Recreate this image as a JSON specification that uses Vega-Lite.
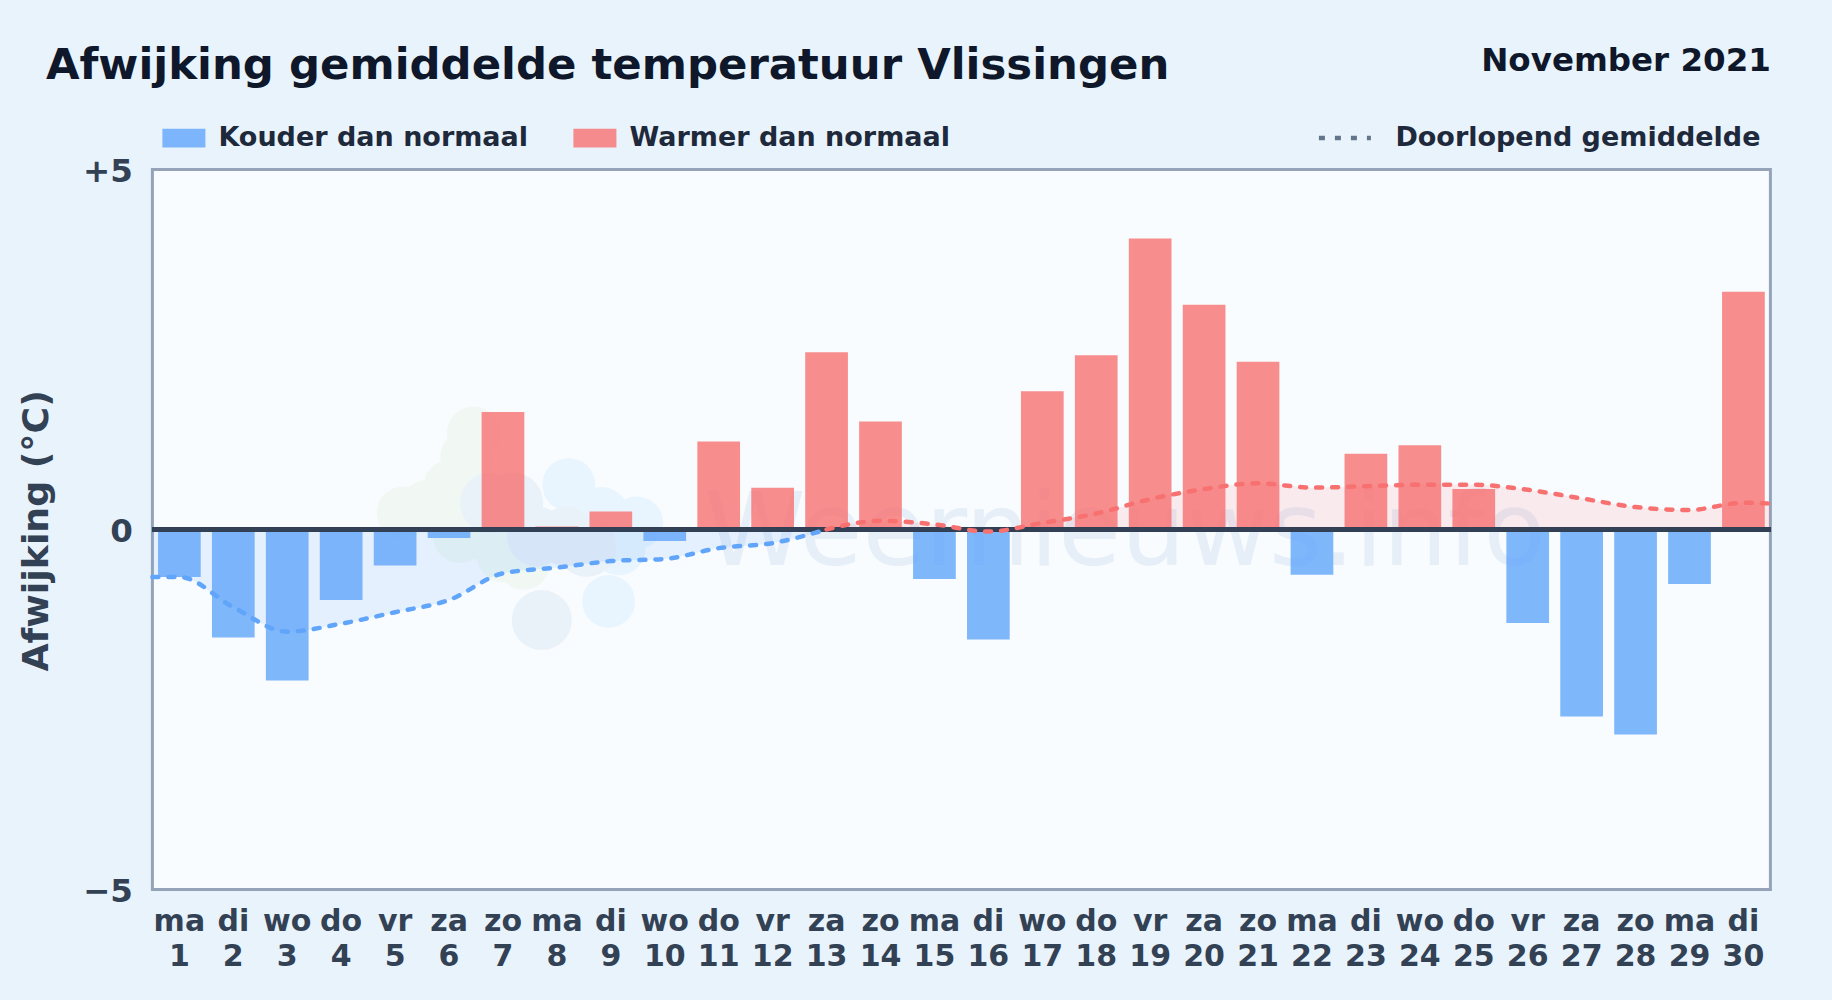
{"$schema":"https://vega.github.io/schema/vega-lite/v6.json","width":1618,"height":720,"autosize":{"type":"none"},"padding":{"left":152.4,"top":169.4,"right":61.6,"bottom":110.6},"background":"#e8f3fc","font":"DejaVu Sans","title":{"text":"Afwijking gemiddelde temperatuur Vlissingen","anchor":"start","frame":"group","dx":-106.5,"offset":-44.5,"font":"DejaVu Sans","fontSize":43.4,"fontWeight":"bold","color":"#0f172a"},"config":{"view":{"fill":"#f8fcff","stroke":"#94a3b8","strokeWidth":3},"font":"DejaVu Sans"},"datasets":{"dagen":[{"dag":1,"afwijking":-0.66,"soort":"Kouder dan normaal"},{"dag":2,"afwijking":-1.5,"soort":"Kouder dan normaal"},{"dag":3,"afwijking":-2.1,"soort":"Kouder dan normaal"},{"dag":4,"afwijking":-0.98,"soort":"Kouder dan normaal"},{"dag":5,"afwijking":-0.5,"soort":"Kouder dan normaal"},{"dag":6,"afwijking":-0.12,"soort":"Kouder dan normaal"},{"dag":7,"afwijking":1.63,"soort":"Warmer dan normaal"},{"dag":8,"afwijking":0.04,"soort":"Warmer dan normaal"},{"dag":9,"afwijking":0.25,"soort":"Warmer dan normaal"},{"dag":10,"afwijking":-0.16,"soort":"Kouder dan normaal"},{"dag":11,"afwijking":1.22,"soort":"Warmer dan normaal"},{"dag":12,"afwijking":0.58,"soort":"Warmer dan normaal"},{"dag":13,"afwijking":2.46,"soort":"Warmer dan normaal"},{"dag":14,"afwijking":1.5,"soort":"Warmer dan normaal"},{"dag":15,"afwijking":-0.69,"soort":"Kouder dan normaal"},{"dag":16,"afwijking":-1.53,"soort":"Kouder dan normaal"},{"dag":17,"afwijking":1.92,"soort":"Warmer dan normaal"},{"dag":18,"afwijking":2.42,"soort":"Warmer dan normaal"},{"dag":19,"afwijking":4.04,"soort":"Warmer dan normaal"},{"dag":20,"afwijking":3.12,"soort":"Warmer dan normaal"},{"dag":21,"afwijking":2.33,"soort":"Warmer dan normaal"},{"dag":22,"afwijking":-0.63,"soort":"Kouder dan normaal"},{"dag":23,"afwijking":1.05,"soort":"Warmer dan normaal"},{"dag":24,"afwijking":1.17,"soort":"Warmer dan normaal"},{"dag":25,"afwijking":0.56,"soort":"Warmer dan normaal"},{"dag":26,"afwijking":-1.3,"soort":"Kouder dan normaal"},{"dag":27,"afwijking":-2.6,"soort":"Kouder dan normaal"},{"dag":28,"afwijking":-2.85,"soort":"Kouder dan normaal"},{"dag":29,"afwijking":-0.76,"soort":"Kouder dan normaal"},{"dag":30,"afwijking":3.3,"soort":"Warmer dan normaal"}],"gemiddelde":[{"dag":0.5,"gemiddelde":-0.66,"soort":"Kouder dan normaal"},{"dag":1,"gemiddelde":-0.66,"soort":"Kouder dan normaal"},{"dag":2,"gemiddelde":-1.08,"soort":"Kouder dan normaal"},{"dag":3,"gemiddelde":-1.42,"soort":"Kouder dan normaal"},{"dag":4,"gemiddelde":-1.31,"soort":"Kouder dan normaal"},{"dag":5,"gemiddelde":-1.15,"soort":"Kouder dan normaal"},{"dag":6,"gemiddelde":-0.98,"soort":"Kouder dan normaal"},{"dag":7,"gemiddelde":-0.61,"soort":"Kouder dan normaal"},{"dag":8,"gemiddelde":-0.53,"soort":"Kouder dan normaal"},{"dag":9,"gemiddelde":-0.44,"soort":"Kouder dan normaal"},{"dag":10,"gemiddelde":-0.41,"soort":"Kouder dan normaal"},{"dag":11,"gemiddelde":-0.26,"soort":"Kouder dan normaal"},{"dag":12,"gemiddelde":-0.19,"soort":"Kouder dan normaal"},{"dag":13,"gemiddelde":0,"soort":"Kouder dan normaal"},{"dag":13,"gemiddelde":0,"soort":"Warmer dan normaal"},{"dag":14,"gemiddelde":0.12,"soort":"Warmer dan normaal"},{"dag":15,"gemiddelde":0.07,"soort":"Warmer dan normaal"},{"dag":16,"gemiddelde":-0.03,"soort":"Warmer dan normaal"},{"dag":17,"gemiddelde":0.09,"soort":"Warmer dan normaal"},{"dag":18,"gemiddelde":0.22,"soort":"Warmer dan normaal"},{"dag":19,"gemiddelde":0.42,"soort":"Warmer dan normaal"},{"dag":20,"gemiddelde":0.56,"soort":"Warmer dan normaal"},{"dag":21,"gemiddelde":0.64,"soort":"Warmer dan normaal"},{"dag":22,"gemiddelde":0.58,"soort":"Warmer dan normaal"},{"dag":23,"gemiddelde":0.6,"soort":"Warmer dan normaal"},{"dag":24,"gemiddelde":0.62,"soort":"Warmer dan normaal"},{"dag":25,"gemiddelde":0.62,"soort":"Warmer dan normaal"},{"dag":26,"gemiddelde":0.55,"soort":"Warmer dan normaal"},{"dag":27,"gemiddelde":0.43,"soort":"Warmer dan normaal"},{"dag":28,"gemiddelde":0.31,"soort":"Warmer dan normaal"},{"dag":29,"gemiddelde":0.27,"soort":"Warmer dan normaal"},{"dag":30,"gemiddelde":0.37,"soort":"Warmer dan normaal"},{"dag":30.5,"gemiddelde":0.36,"soort":"Warmer dan normaal"}],"logoGroen":[{"dag":5.15,"w":0.23},{"dag":5.59,"w":0.32},{"dag":6.02,"w":0.6},{"dag":6.33,"w":1.01},{"dag":6.45,"w":1.34},{"dag":7.01,"w":-0.37},{"dag":7.38,"w":-0.47},{"dag":6.82,"w":-0.14},{"dag":6.2,"w":-0.1}],"logoLicht":[{"dag":8.22,"w":0.62},{"dag":8.83,"w":0.22},{"dag":9.48,"w":0.09},{"dag":8.96,"w":-1.0},{"dag":9.15,"w":-0.27}],"logoGrijs":[{"dag":6.76,"w":0.37},{"dag":7.19,"w":0.37},{"dag":7.63,"w":-0.1},{"dag":8.55,"w":-0.24},{"dag":7.72,"w":-1.26},{"dag":8.18,"w":-0.1}],"watermerk":[{"dag":18.54,"w":-0.49,"tekst":"Weernieuws.info"}]},"layer":[{"data":{"name":"logoGroen"},"mark":{"type":"point","filled":true,"opacity":1,"size":2800,"color":"#f1f8f4"},"encoding":{"x":{"field":"dag","type":"quantitative","scale":{"domain":[0.5,30.5],"nice":false,"zero":false,"padding":0},"axis":{"values":[1,2,3,4,5,6,7,8,9,10,11,12,13,14,15,16,17,18,19,20,21,22,23,24,25,26,27,28,29,30],"labelExpr":"[['ma','di','wo','do','vr','za','zo'][(datum.value-1)%7],toString(datum.value)]","labelFontSize":30,"labelFontWeight":"bold","labelColor":"#334155","labelLineHeight":35,"labelPadding":17.5,"labelOffset":-0.5,"labelFlush":false,"labelBound":false,"labelOverlap":false,"labelAngle":0,"domain":false,"ticks":false,"grid":false,"title":"November 2021","titleFontSize":32.5,"titleFontWeight":"bold","titleColor":"#0f172a","titleAlign":"right","titleBaseline":"alphabetic","titleAnchor":"end","titleX":1618,"titleY":-819}},"y":{"field":"w","type":"quantitative","scale":{"domain":[-5,5],"nice":false,"zero":false,"padding":0},"axis":{"values":[-5,0,5],"labelExpr":"datum.value>0?'+5':datum.value<0?'−5':'0'","labelFontSize":32.5,"labelFontWeight":"bold","labelColor":"#334155","labelPadding":20,"labelOffset":2,"domain":false,"ticks":false,"grid":false,"title":"Afwijking (°C)","titleFontSize":36.3,"titleFontWeight":"bold","titleColor":"#334155","titleX":-97,"titleY":361}}}},{"data":{"name":"logoLicht"},"mark":{"type":"point","filled":true,"opacity":1,"size":2800,"color":"#e8f5fe"},"encoding":{"x":{"field":"dag","type":"quantitative"},"y":{"field":"w","type":"quantitative"}}},{"data":{"name":"logoGrijs"},"mark":{"type":"point","filled":true,"opacity":1,"size":3600,"color":"#e9f1f9"},"encoding":{"x":{"field":"dag","type":"quantitative"},"y":{"field":"w","type":"quantitative"}}},{"data":{"name":"watermerk"},"mark":{"type":"text","fontSize":102,"font":"DejaVu Sans","align":"center","baseline":"alphabetic","color":"#1e4fa8","opacity":0.075},"encoding":{"x":{"field":"dag","type":"quantitative"},"y":{"field":"w","type":"quantitative"},"text":{"field":"tekst"}}},{"data":{"name":"gemiddelde"},"mark":{"type":"area","interpolate":"monotone","opacity":0.13},"encoding":{"x":{"field":"dag","type":"quantitative"},"y":{"field":"gemiddelde","type":"quantitative"},"y2":{"datum":0},"fill":{"field":"soort","type":"nominal","scale":{"domain":["Kouder dan normaal","Warmer dan normaal"],"range":["#60a5fa","#f87171"]},"legend":{"title":null,"orient":"none","legendX":10,"legendY":-53,"direction":"horizontal","columns":2,"columnPadding":45,"symbolType":"M-1,-0.44H1V0.44H-1Z","symbolSize":1849,"symbolOpacity":0.8,"symbolStrokeWidth":0,"labelOffset":13,"labelFontSize":27,"labelFontWeight":"bold","labelColor":"#1e293b","labelFont":"DejaVu Sans","labelLimit":500}}}},{"data":{"name":"dagen"},"mark":{"type":"bar","size":42.7,"opacity":0.8},"encoding":{"x":{"field":"dag","type":"quantitative"},"y":{"field":"afwijking","type":"quantitative"},"fill":{"field":"soort","type":"nominal"}}},{"data":{"name":"dagen"},"mark":{"type":"rule","color":"#334155","strokeWidth":3.5,"opacity":0.95},"encoding":{"y":{"datum":0}}},{"data":{"name":"gemiddelde"},"mark":{"type":"line","interpolate":"monotone","strokeWidth":4.5,"strokeCap":"round"},"encoding":{"x":{"field":"dag","type":"quantitative"},"y":{"field":"gemiddelde","type":"quantitative"},"stroke":{"field":"soort","type":"nominal","scale":{"domain":["Kouder dan normaal","Warmer dan normaal"],"range":["#60a5fa","#f87171"]},"legend":null},"strokeDash":{"datum":"Doorlopend gemiddelde","type":"nominal","scale":{"domain":["Doorlopend gemiddelde"],"range":[[6,10]]},"legend":{"title":null,"orient":"none","legendX":1164,"legendY":-60,"symbolType":"stroke","symbolSize":2704,"symbolStrokeColor":"#64748b","symbolStrokeWidth":4.5,"labelOffset":22,"labelFontSize":27,"labelFontWeight":"bold","labelColor":"#1e293b","labelFont":"DejaVu Sans","labelLimit":500}}}}]}
